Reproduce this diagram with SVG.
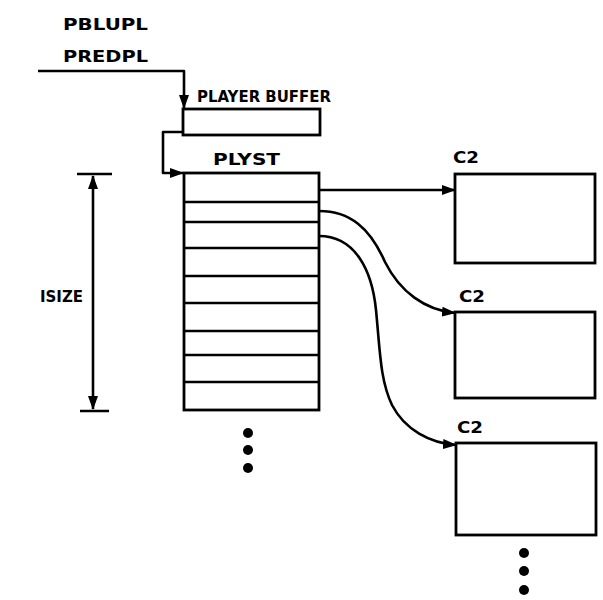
<svg xmlns="http://www.w3.org/2000/svg" width="603" height="600" viewBox="0 0 603 600">
<defs>
<style>
.ln{fill:none;stroke:#000;stroke-width:2.6;stroke-linejoin:round;}
.bx{fill:#fff;stroke:#000;stroke-width:2.8;}
.tx{font-family:"DejaVu Sans","Liberation Sans",sans-serif;font-weight:bold;font-size:16px;fill:#000;}
.dot{fill:#000;}
</style>
<marker id="ah" markerUnits="userSpaceOnUse" markerWidth="14" markerHeight="10" refX="13" refY="5" orient="auto-start-reverse" viewBox="0 0 14 10">
<path d="M0,0 L14,5 L0,10 Z" fill="#000"/>
</marker>
</defs>
<rect width="603" height="600" fill="#fff"/>

<g id="labels">
<text class="tx" x="63" y="30" textLength="85" lengthAdjust="spacingAndGlyphs">PBLUPL</text>
<text class="tx" x="63" y="62" textLength="85" lengthAdjust="spacingAndGlyphs">PREDPL</text>
<text class="tx" x="40" y="302" textLength="43" lengthAdjust="spacingAndGlyphs">ISIZE</text>
</g>

<g id="player-buffer">
<rect class="bx" x="183" y="109" width="137" height="26"/>
<text class="tx" x="197" y="102" textLength="134" lengthAdjust="spacingAndGlyphs">PLAYER BUFFER</text>
</g>

<g id="plyst">
<rect class="bx" x="184" y="173" width="135" height="237"/>
<path class="ln" d="M184,202 H319 M184,222 H319 M184,248 H319 M184,276 H319 M184,303 H319 M184,331 H319 M184,355 H319 M184,382 H319"/>
<text class="tx" x="213" y="165" textLength="67" lengthAdjust="spacingAndGlyphs">PLYST</text>
<circle class="dot" cx="248" cy="433" r="5"/>
<circle class="dot" cx="248" cy="450" r="5"/>
<circle class="dot" cx="248" cy="468" r="5"/>
</g>

<g id="c2-1">
<rect class="bx" x="455" y="174" width="140" height="89"/>
<text class="tx" x="453" y="163" textLength="26" lengthAdjust="spacingAndGlyphs">C2</text>
</g>
<g id="c2-2">
<rect class="bx" x="455" y="312" width="140" height="86"/>
<text class="tx" x="459" y="302" textLength="26" lengthAdjust="spacingAndGlyphs">C2</text>
</g>
<g id="c2-3">
<rect class="bx" x="456" y="443" width="140" height="92"/>
<text class="tx" x="457" y="433" textLength="26" lengthAdjust="spacingAndGlyphs">C2</text>
<circle class="dot" cx="524" cy="553" r="5"/>
<circle class="dot" cx="524" cy="571" r="5"/>
<circle class="dot" cx="524" cy="590" r="5"/>
</g>

<g id="connectors">
<path class="ln" d="M38,71 H184 V108" marker-end="url(#ah)"/>
<path class="ln" d="M183,132 H163 V173 H183" marker-end="url(#ah)"/>
<path class="ln" d="M77,174 H112 M80,411 H109"/>
<path class="ln" d="M93,176 V409" marker-start="url(#ah)" marker-end="url(#ah)"/>
<path class="ln" d="M319,190 H455" marker-end="url(#ah)"/>
<path class="ln" d="M319,211 C350,211 370,228 385,262 C400,292 425,310 455,313" marker-end="url(#ah)"/>
<path class="ln" d="M319,236 C355,236 372,270 376,310 C380,350 380,380 392,405 C405,430 430,443 456,445" marker-end="url(#ah)"/>
</g>
</svg>
